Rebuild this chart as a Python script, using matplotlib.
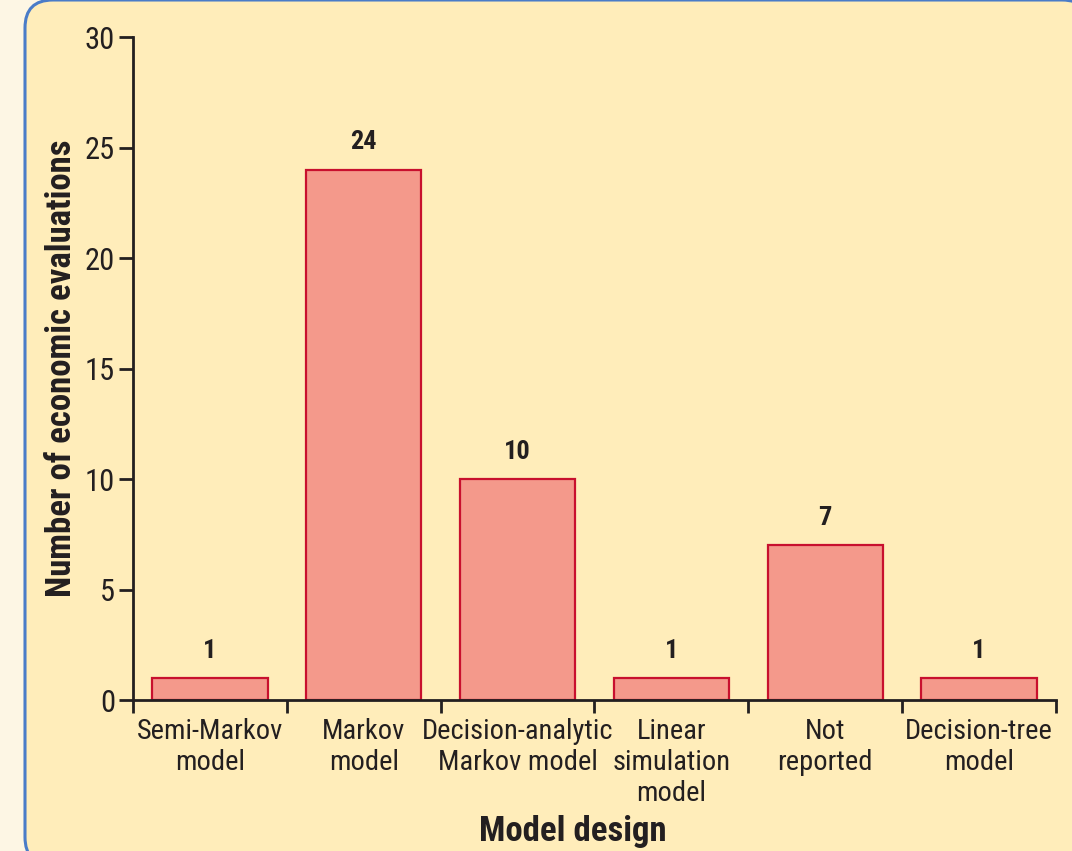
import matplotlib
matplotlib.use("Agg")
import matplotlib.pyplot as plt
from matplotlib.patches import FancyBboxPatch

# Datos
categories = ["Semi-Markov\nmodel", "Markov\nmodel", "Decision-analytic\nMarkov model",
              "Linear\nsimulation\nmodel", "Not\nreported", "Decision-tree\nmodel"]
counts = [1, 24, 10, 1, 7, 1]
y_ticks = [0, 5, 10, 15, 20, 25, 30]

plt.rcParams['font.family'] = ['Roboto Condensed', 'Liberation Sans', 'DejaVu Sans']

W, H = 1072, 851
fig = plt.figure(figsize=(W / 100, H / 100), dpi=100)
fig.patch.set_facecolor('#FDF6E4')

# Panel de fondo con borde azul redondeado
panel = FancyBboxPatch((25 / W, -14 / H), 1065 / W, 865 / H,
                       boxstyle="round,pad=0,rounding_size=0.026",
                       transform=fig.transFigure, facecolor='#FFEDBA',
                       edgecolor='#4A7CC8', linewidth=2.2, mutation_aspect=W / H,
                       zorder=-10)
fig.patches.append(panel)

ax = fig.add_axes([133 / W, 151 / H, 923 / W, 663 / H])
ax.set_facecolor('none')

x = list(range(len(categories)))
ax.bar(x, counts, width=0.75, color='#F4998B', edgecolor='#C8102E', linewidth=1.6)
for xi, v in zip(x, counts):
    ax.annotate(str(v), (xi, v), xytext=(0, 14.5), textcoords='offset points',
                ha='center', va='baseline', fontsize=19, fontweight='bold',
                color='#231F20')

ax.set_xlim(-0.5, len(categories) - 0.5)
ax.set_ylim(0, 30)
ax.set_yticks(y_ticks)
ax.tick_params(axis='y', length=10, width=2, labelsize=22, colors='#231F20', pad=3)

# marcas en los límites entre categorías, etiquetas en el centro
ax.set_xticks([i - 0.5 for i in range(len(categories) + 1)])
ax.set_xticklabels([])
ax.set_xticks(x, minor=True)
ax.set_xticklabels(categories, minor=True, fontsize=20.5, color='#231F20',
                   linespacing=1.2)
ax.tick_params(axis='x', which='major', length=9, width=2, colors='#231F20')
ax.tick_params(axis='x', which='minor', length=0, pad=13)

for side in ['top', 'right']:
    ax.spines[side].set_visible(False)
for side in ['left', 'bottom']:
    ax.spines[side].set_linewidth(2)
    ax.spines[side].set_color('#231F20')

ax.set_ylabel('Number of economic evaluations', fontsize=25, fontweight='bold',
              color='#231F20')
ax.yaxis.set_label_coords(-0.06, 0.5)
fig.text(573 / W, 20 / H, 'Model design', ha='center', va='center',
         fontsize=25, fontweight='bold', color='#231F20')

fig.savefig('out.png', dpi=100, facecolor=fig.get_facecolor())
